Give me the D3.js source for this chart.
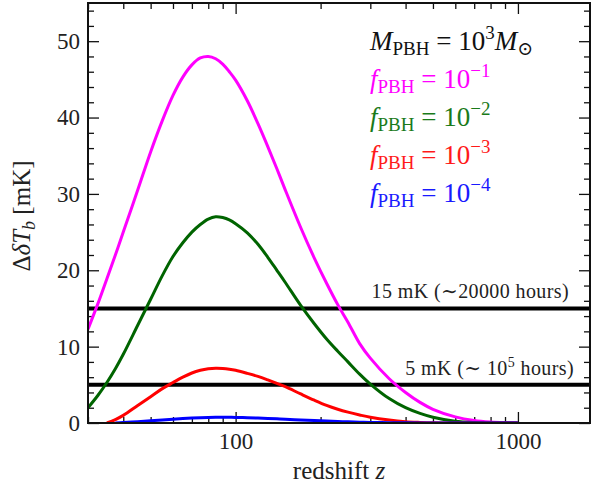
<!DOCTYPE html>
<html>
<head>
<meta charset="utf-8">
<script src="https://cdn.jsdelivr.net/npm/d3@7"></script>
<style>
  html, body { margin: 0; padding: 0; background: #fff; }
  svg { display: block; }
  text { font-family: "Liberation Serif", "DejaVu Serif", serif; }
</style>
</head>
<body>
<svg id="chart" width="591" height="491"></svg>
<script>
// Redshift grid shared by all curves
const redshift = [30, 32.5, 35, 37.5, 40, 45, 50, 55, 60, 65, 70, 75, 80, 85, 90, 95, 100,
  110, 120, 130, 140, 150, 170, 190, 210, 230, 250, 275, 300, 350, 400, 450, 500,
  600, 700, 800, 900, 1000];

// Brightness-temperature fluctuation excess [mK] for each PBH fraction
const dTb_f1 = [12.3, 15.6, 18.9, 22.0, 25.0, 30.5, 35.5, 39.6, 42.9, 45.3, 46.9, 47.8, 48.0, 47.7, 47.0, 46.0, 44.9,
  42.2, 39.2, 36.2, 33.3, 30.5, 25.6, 21.6, 18.3, 15.5, 13.2, 10.4, 8.5, 5.8, 4.0, 2.7, 1.8,
  0.8, 0.32, 0.12, 0.04, 0.01];
const dTb_f2 = [2.0, 3.6, 5.3, 7.1, 9.0, 12.8, 16.2, 19.3, 21.8, 23.6, 25.0, 26.0, 26.7, 27.0, 26.9, 26.6, 26.1,
  24.9, 23.4, 21.7, 20.0, 18.4, 15.4, 13.0, 11.0, 9.4, 8.0, 6.4, 5.1, 3.2, 2.0, 1.25, 0.75,
  0.22, 0.05, 0.01, 0.0, 0.0];
const dTb_f3 = [null, null, 0.0, 0.45, 1.0, 2.3, 3.45, 4.5, 5.3, 6.0, 6.55, 6.9, 7.1, 7.18, 7.15, 7.05, 6.9,
  6.5, 6.1, 5.65, 5.2, 4.75, 3.8, 2.98, 2.3, 1.8, 1.42, 1.05, 0.75, 0.38, 0.17, 0.08, 0.03,
  0.01, 0.0, 0.0, 0.0, 0.0];
const dTb_f4 = [null, null, null, 0.0, 0.05, 0.18, 0.3, 0.4, 0.5, 0.58, 0.65, 0.7, 0.73, 0.75, 0.76, 0.75, 0.73,
  0.69, 0.65, 0.6, 0.55, 0.5, 0.4, 0.32, 0.25, 0.19, 0.15, 0.11, 0.08, 0.04, 0.02, 0.01, 0.0,
  0.0, 0.0, 0.0, 0.0, 0.0];

const seriesValues = [dTb_f1, dTb_f2, dTb_f3, dTb_f4];
const seriesExponents = ["\u22121", "\u22122", "\u22123", "\u22124"];
const seriesColors = ["#ff00ff", "#006400", "#ff0000", "#0000ff"];
const legendTextColors = ["#ff00ff", "#1a7a1a", "#ff1a1a", "#1a1aff"];

// Sensitivity thresholds [mK]
const thresholds = [15, 5];

// Axis ticks
const xMajorTicks = [100, 1000];
const xMinorTicks = [30, 40, 50, 60, 70, 80, 90, 200, 300, 400, 500, 600, 700, 800, 900];
const yMajorTicks = [0, 10, 20, 30, 40, 50];
const yMinorTicks = d3.range(0, 56, 2).filter(v => v % 10 !== 0);

const mLeft = 88, mRight = 590, mTop = 3, mBottom = 423;
const serifFont = "'Liberation Serif', 'DejaVu Serif', serif";

const svg = d3.select("#chart");
const x = d3.scaleLog().domain([30, 1800]).range([mLeft, mRight]);
const y = d3.scaleLinear().domain([0, 55]).range([mBottom, mTop]);

svg.append("defs").append("clipPath").attr("id", "plot-clip")
  .append("rect").attr("x", mLeft).attr("y", mTop)
  .attr("width", mRight - mLeft).attr("height", mBottom - mTop);

// Inward-facing ticks on all four sides
function styleAxis(g) {
  g.attr("font-family", null);
  g.select(".domain").remove();
  g.selectAll(".tick line").attr("stroke", "#111").attr("stroke-width", 1.3);
  g.selectAll(".tick text").attr("fill", "#222")
    .style("font-family", serifFont).style("font-size", "23px");
}

svg.append("g").attr("transform", `translate(0,${mBottom})`)
  .call(d3.axisBottom(x).tickValues(xMajorTicks).tickFormat(d3.format("d"))
    .tickSizeInner(-11).tickSizeOuter(0).tickPadding(10))
  .call(styleAxis);
svg.append("g").attr("transform", `translate(0,${mBottom})`)
  .call(d3.axisBottom(x).tickValues(xMinorTicks).tickFormat("").tickSizeInner(-6).tickSizeOuter(0))
  .call(styleAxis);
svg.append("g").attr("transform", `translate(0,${mTop})`)
  .call(d3.axisTop(x).tickValues(xMajorTicks).tickFormat("").tickSizeInner(-11).tickSizeOuter(0))
  .call(styleAxis);
svg.append("g").attr("transform", `translate(0,${mTop})`)
  .call(d3.axisTop(x).tickValues(xMinorTicks).tickFormat("").tickSizeInner(-6).tickSizeOuter(0))
  .call(styleAxis);

svg.append("g").attr("transform", `translate(${mLeft},0)`)
  .call(d3.axisLeft(y).tickValues(yMajorTicks).tickFormat(d3.format("d"))
    .tickSizeInner(-11).tickSizeOuter(0).tickPadding(8))
  .call(styleAxis);
svg.append("g").attr("transform", `translate(${mLeft},0)`)
  .call(d3.axisLeft(y).tickValues(yMinorTicks).tickFormat("").tickSizeInner(-6).tickSizeOuter(0))
  .call(styleAxis);
svg.append("g").attr("transform", `translate(${mRight},0)`)
  .call(d3.axisRight(y).tickValues(yMajorTicks).tickFormat("").tickSizeInner(-11).tickSizeOuter(0))
  .call(styleAxis);
svg.append("g").attr("transform", `translate(${mRight},0)`)
  .call(d3.axisRight(y).tickValues(yMinorTicks).tickFormat("").tickSizeInner(-6).tickSizeOuter(0))
  .call(styleAxis);

const plot = svg.append("g").attr("clip-path", "url(#plot-clip)");

// Threshold lines
plot.selectAll("line.threshold").data(thresholds).join("line")
  .attr("class", "threshold")
  .attr("x1", x(30)).attr("x2", x(1800))
  .attr("y1", d => y(d)).attr("y2", d => y(d))
  .attr("stroke", "#000").attr("stroke-width", 4);

// Curves
const line = d3.line()
  .defined(d => d[1] !== null)
  .x(d => x(d[0])).y(d => y(d[1]))
  .curve(d3.curveCatmullRom.alpha(0.5));

plot.selectAll("path.curve").data(seriesValues).join("path")
  .attr("class", "curve")
  .attr("d", vals => line(redshift.map((z, i) => [z, vals[i]])))
  .attr("fill", "none")
  .attr("stroke", (d, i) => seriesColors[i])
  .attr("stroke-width", 3)
  .attr("stroke-linejoin", "round");

// Frame
svg.append("rect").attr("x", mLeft).attr("y", mTop)
  .attr("width", mRight - mLeft).attr("height", mBottom - mTop)
  .attr("fill", "none").attr("stroke", "#111").attr("stroke-width", 2);

// Threshold annotations
const ann1 = svg.append("text").attr("x", x(303)).attr("y", y(16.4))
  .attr("font-family", serifFont).attr("font-size", 20).attr("letter-spacing", 0.4)
  .attr("fill", "#222");
ann1.text("15 mK (\u223C20000 hours)");

const ann2 = svg.append("text").attr("x", x(399)).attr("y", y(6.3))
  .attr("font-family", serifFont).attr("font-size", 20).attr("letter-spacing", 0.4)
  .attr("fill", "#222");
ann2.append("tspan").text("5 mK (\u223C 10");
ann2.append("tspan").attr("dy", -8).attr("font-size", 14).text("5");
ann2.append("tspan").attr("dy", 8).text(" hours)");

// Legend
const legX = 370, legY0 = 50, legStep = 38, fs = 27, sub = 19;
const l0 = svg.append("text").attr("x", legX).attr("y", legY0)
  .attr("font-family", serifFont).attr("font-size", fs).attr("fill", "#111");
l0.append("tspan").attr("font-style", "italic").text("M");
l0.append("tspan").attr("font-size", sub).attr("dy", 5).text("PBH");
l0.append("tspan").attr("dy", -5).text(" = 10");
l0.append("tspan").attr("font-size", sub).attr("dy", -11).text("3");
l0.append("tspan").attr("dy", 11).attr("font-style", "italic").text("M");
l0.append("tspan").attr("font-size", sub).attr("dy", 5).text("\u2299");

seriesExponents.forEach((e, i) => {
  const t = svg.append("text").attr("x", legX).attr("y", legY0 + legStep * (i + 1))
    .attr("font-family", serifFont).attr("font-size", fs).attr("fill", legendTextColors[i]);
  t.append("tspan").attr("font-style", "italic").text("f");
  t.append("tspan").attr("font-size", sub).attr("dy", 5).text("PBH");
  t.append("tspan").attr("dy", -5).text(" = 10");
  t.append("tspan").attr("font-size", sub).attr("dy", -11).text(e);
});

// Axis labels
const xl = svg.append("text").attr("x", (mLeft + mRight) / 2).attr("y", 479)
  .attr("font-family", serifFont)
  .attr("text-anchor", "middle").attr("font-size", 25).attr("fill", "#222");
xl.append("tspan").text("redshift ");
xl.append("tspan").attr("font-style", "italic").text("z");

const yl = svg.append("text")
  .attr("transform", `translate(30,216) rotate(-90)`)
  .attr("font-family", serifFont)
  .attr("text-anchor", "middle").attr("font-size", 25).attr("fill", "#222");
yl.append("tspan").text("\u0394");
yl.append("tspan").attr("font-style", "italic").text("\u03B4T");
yl.append("tspan").attr("font-style", "italic").attr("font-size", 18).attr("dy", 5).text("b");
yl.append("tspan").attr("dy", -5).text(" [mK]");
</script>
</body>
</html>
